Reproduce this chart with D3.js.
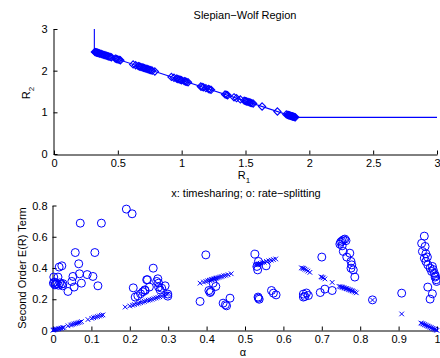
<!DOCTYPE html>
<html>
<head>
<meta charset="utf-8">
<script src="https://cdn.jsdelivr.net/npm/d3@7"></script>
<style>
  html, body { margin: 0; padding: 0; background: #fff; }
  svg text { font-family: "Liberation Sans", Arial, Helvetica, sans-serif; fill: #000; }
</style>
</head>
<body>
<svg id="chart" width="440" height="358"></svg>
<script>
// ---- Slepian-Wolf region (top panel) ----
const regionR1 = [0.316, 0.316, 1.89, 3];
const regionR2 = [3, 2.455, 0.88, 0.88];

// rate-splitting operating points on the dominant face
const splitR1 = [0.32,0.325,0.33,0.335,0.34,0.345,0.35,0.355,0.36,0.37,0.38,0.39,0.40,0.41,0.42,0.43,0.44,0.45,0.48,0.49,0.50,0.51,0.52,
  0.62,0.64,0.66,0.67,0.68,0.69,0.70,0.71,0.72,0.73,0.74,0.75,0.76,0.77,0.79,
  0.92,0.94,0.96,0.97,0.98,0.99,1.00,1.02,1.03,1.04,1.05,
  1.15,1.16,1.17,1.19,1.21,1.22,1.23,
  1.34,1.35,1.36,1.41,1.43,1.46,
  1.49,1.50,1.51,1.52,1.53,1.54,1.55,1.56,
  1.63,1.75,
  1.82,1.83,1.835,1.84,1.845,1.85,1.855,1.86,1.865,1.87,1.875,1.88,1.885,1.89];
const splitR2 = [2.45,2.445,2.44,2.435,2.43,2.425,2.42,2.415,2.41,2.40,2.39,2.38,2.37,2.36,2.35,2.34,2.33,2.32,2.29,2.28,2.27,2.26,2.25,
  2.15,2.13,2.11,2.10,2.09,2.08,2.07,2.06,2.05,2.04,2.03,2.02,2.01,2.00,1.98,
  1.85,1.83,1.81,1.80,1.79,1.78,1.77,1.75,1.74,1.73,1.72,
  1.62,1.61,1.60,1.58,1.56,1.55,1.54,
  1.43,1.42,1.41,1.36,1.34,1.31,
  1.28,1.27,1.26,1.25,1.24,1.23,1.22,1.21,
  1.14,1.02,
  0.95,0.94,0.935,0.93,0.925,0.92,0.915,0.91,0.905,0.90,0.895,0.89,0.885,0.88];

const topXTicks = [0, 0.5, 1, 1.5, 2, 2.5, 3];
const topYTicks = [0, 1, 2, 3];

// ---- second order error exponent term (bottom panel) ----
// rate-splitting: [alpha, term]
const splitAlpha = [0.002,0.004,0.006,0.010,0.013,0.014,0.018,0.022,0.016,0.023,0.026,0.025,0.005,0.001,0.039,0.049,0.052,0.055,0.058,0.067,0.069,0.071,0.074,0.089,0.104,0.109,0.117,0.126,
  0.191,0.206,0.209,0.214,0.221,0.228,0.234,0.239,0.244,0.261,0.246,0.273,0.275,0.251,0.275,0.292,0.279,0.299,0.299,0.240,0.270,0.283,
  0.398,0.383,0.406,0.409,0.411,0.417,0.424,0.443,0.452,0.449,0.461,
  0.526,0.535,0.531,0.533,0.555,0.535,0.537,0.534,0.569,0.574,0.581,
  0.652,0.656,0.665,0.652,0.660,0.700,0.696,0.708,0.727,
  0.747,0.749,0.752,0.756,0.760,0.763,0.753,0.756,0.765,0.773,0.776,0.778,0.776,0.782,0.786,
  0.832,0.908,
  0.967,0.960,0.969,0.962,0.971,0.967,0.975,0.971,0.976,0.982,0.988,0.986,0.993,0.995,0.998,0.999,0.990,0.996,0.976,0.988,0.982];
const splitTerm = [0.342,0.310,0.296,0.300,0.342,0.290,0.305,0.296,0.406,0.414,0.300,0.286,0.292,0.303,0.250,0.314,0.346,0.278,0.499,0.427,0.363,0.687,0.303,0.358,0.346,0.499,0.286,0.687,
  0.777,0.747,0.273,0.214,0.222,0.235,0.248,0.260,0.325,0.399,0.325,0.331,0.303,0.278,0.278,0.286,0.260,0.233,0.220,0.256,0.314,0.271,
  0.484,0.186,0.256,0.243,0.250,0.303,0.282,0.175,0.158,0.165,0.207,
  0.489,0.442,0.410,0.388,0.414,0.207,0.200,0.214,0.256,0.239,0.228,
  0.233,0.218,0.224,0.214,0.240,0.470,0.243,0.265,0.256,
  0.553,0.565,0.572,0.580,0.585,0.575,0.542,0.506,0.470,0.495,0.442,0.420,0.399,0.388,0.342,
  0.196,0.239,
  0.604,0.558,0.538,0.506,0.491,0.463,0.470,0.442,0.420,0.399,0.410,0.378,0.367,0.342,0.325,0.314,0.390,0.350,0.278,0.235,0.201];

// timesharing: [alpha, term]
const shareAlpha = [0.000,0.003,0.006,0.009,0.012,0.015,0.018,0.021,0.025,0.028,0.039,0.046,0.050,0.054,0.058,0.062,0.066,0.070,0.074,0.091,0.101,0.106,0.111,0.116,0.121,0.126,0.130,
  0.188,0.200,0.207,0.212,0.218,0.223,0.228,0.233,0.238,0.243,0.248,0.253,0.258,0.263,0.268,0.273,0.278,0.283,0.290,0.296,0.300,
  0.383,0.392,0.398,0.403,0.407,0.410,0.413,0.416,0.419,0.422,0.425,0.428,0.432,0.436,0.440,0.445,0.450,0.456,0.464,
  0.527,0.531,0.534,0.537,0.540,0.545,0.550,0.556,0.562,0.568,0.574,0.580,
  0.647,0.650,0.653,0.656,0.660,0.664,0.669,0.698,0.701,0.704,0.708,0.727,
  0.745,0.749,0.752,0.755,0.758,0.761,0.764,0.767,0.770,0.773,0.776,0.779,0.782,0.786,0.790,
  0.832,0.908,
  0.958,0.961,0.964,0.967,0.970,0.973,0.976,0.979,0.982,0.985,0.988,0.991,0.994,0.997,1.000];
const shareTerm = [0.002,0.004,0.006,0.008,0.009,0.011,0.013,0.015,0.018,0.020,0.030,0.035,0.038,0.042,0.045,0.047,0.050,0.053,0.057,0.070,0.078,0.082,0.086,0.089,0.093,0.097,0.100,
  0.150,0.157,0.162,0.166,0.170,0.174,0.178,0.182,0.186,0.190,0.194,0.196,0.200,0.204,0.208,0.212,0.216,0.220,0.226,0.232,0.236,
  0.303,0.310,0.314,0.318,0.321,0.323,0.326,0.328,0.330,0.333,0.335,0.337,0.340,0.343,0.346,0.350,0.353,0.357,0.363,
  0.420,0.423,0.425,0.427,0.430,0.434,0.437,0.442,0.446,0.450,0.454,0.458,
  0.401,0.399,0.397,0.392,0.387,0.380,0.372,0.344,0.341,0.337,0.330,0.308,
  0.282,0.280,0.278,0.276,0.273,0.270,0.268,0.266,0.262,0.260,0.257,0.254,0.251,0.246,0.241,
  0.195,0.106,
  0.048,0.045,0.042,0.038,0.035,0.031,0.028,0.025,0.021,0.018,0.014,0.011,0.008,0.004,0.001];

const botXTicks = [0, 0.1, 0.2, 0.3, 0.4, 0.5, 0.6, 0.7, 0.8, 0.9, 1];
const botYTicks = [0, 0.2, 0.4, 0.6, 0.8];

const BLUE = "#0000ff";
const FONT = 11;
const svg = d3.select("#chart");

function styleAxis(g) {
  g.selectAll("path.domain").attr("stroke", "#000").attr("stroke-width", 1);
  g.selectAll(".tick line").attr("stroke", "#000");
  g.selectAll(".tick text").attr("font-size", FONT).attr("fill", "#000")
    .attr("font-family", '"Liberation Sans", Arial, sans-serif');
}

// ================= top panel =================
const tx = d3.scaleLinear().domain([0, 3]).range([54, 437]);
const ty = d3.scaleLinear().domain([0, 3]).range([154, 29]);

svg.append("g").attr("transform", "translate(0,154.5)")
  .call(d3.axisBottom(tx).tickValues(topXTicks).tickFormat(d3.format("~g"))
    .tickSizeInner(-4).tickSizeOuter(0).tickPadding(5))
  .call(styleAxis);
svg.append("g").attr("transform", "translate(53.5,0)")
  .call(d3.axisLeft(ty).tickValues(topYTicks).tickFormat(d3.format("~g"))
    .tickSizeInner(-4).tickSizeOuter(0).tickPadding(6))
  .call(styleAxis);

const regionPts = regionR1.map((r, i) => [r, regionR2[i]]);
svg.append("path")
  .datum(regionPts)
  .attr("d", d3.line().x(d => tx(d[0])).y(d => ty(d[1])))
  .attr("fill", "none").attr("stroke", BLUE).attr("stroke-width", 1.1);

const dh = 3.6;
svg.append("g").selectAll("path")
  .data(splitR1.map((r, i) => [r, splitR2[i]]))
  .join("path")
  .attr("transform", d => `translate(${tx(d[0])},${ty(d[1])})`)
  .attr("d", `M0,${-dh}L${dh},0L0,${dh}L${-dh},0Z`)
  .attr("fill", "none").attr("stroke", BLUE).attr("stroke-width", 1.1);

svg.append("text").attr("x", 245).attr("y", 19).attr("text-anchor", "middle")
  .attr("font-size", FONT).text("Slepian\u2212Wolf Region");

const r1 = svg.append("text").attr("x", 244).attr("y", 179).attr("text-anchor", "middle").attr("font-size", FONT);
r1.append("tspan").text("R");
r1.append("tspan").attr("font-size", 8).attr("dy", 3.5).text("1");

const r2 = svg.append("text").attr("transform", "translate(30,93) rotate(-90)")
  .attr("text-anchor", "middle").attr("font-size", FONT);
r2.append("tspan").text("R");
r2.append("tspan").attr("font-size", 8).attr("dy", 3.5).text("2");

// ================= bottom panel =================
const bx = d3.scaleLinear().domain([0, 1]).range([53, 437]);
const by = d3.scaleLinear().domain([0, 0.8]).range([330.5, 205.5]);

svg.append("g").attr("transform", "translate(0,330.5)")
  .call(d3.axisBottom(bx).tickValues(botXTicks).tickFormat(d3.format("~g"))
    .tickSizeInner(-4).tickSizeOuter(0).tickPadding(4.5))
  .call(styleAxis);
svg.append("g").attr("transform", "translate(52.5,0)")
  .call(d3.axisLeft(by).tickValues(botYTicks).tickFormat(d3.format("~g"))
    .tickSizeInner(-4).tickSizeOuter(0).tickPadding(5))
  .call(styleAxis);

// rate-splitting points: circles
svg.append("g").selectAll("circle")
  .data(splitAlpha.map((a, i) => [a, splitTerm[i]]))
  .join("circle")
  .attr("cx", d => bx(d[0])).attr("cy", d => by(d[1])).attr("r", 4)
  .attr("fill", "none").attr("stroke", BLUE).attr("stroke-width", 1);

// timesharing points: crosses
const xh = 2.3;
svg.append("g").selectAll("path")
  .data(shareAlpha.map((a, i) => [a, shareTerm[i]]))
  .join("path")
  .attr("transform", d => `translate(${bx(d[0])},${by(d[1])})`)
  .attr("d", `M${-xh},${-xh}L${xh},${xh}M${-xh},${xh}L${xh},${-xh}`)
  .attr("fill", "none").attr("stroke", BLUE).attr("stroke-width", 1);

svg.append("text").attr("x", 246).attr("y", 197).attr("text-anchor", "middle")
  .attr("font-size", FONT).text("x: timesharing; o: rate\u2212splitting");

svg.append("text").attr("x", 243).attr("y", 356).attr("text-anchor", "middle")
  .attr("font-size", FONT).text("\u03b1");

svg.append("text").attr("transform", "translate(26,268) rotate(-90)")
  .attr("text-anchor", "middle").attr("font-size", FONT).text("Second Order E(R) Term");
</script>
</body>
</html>
